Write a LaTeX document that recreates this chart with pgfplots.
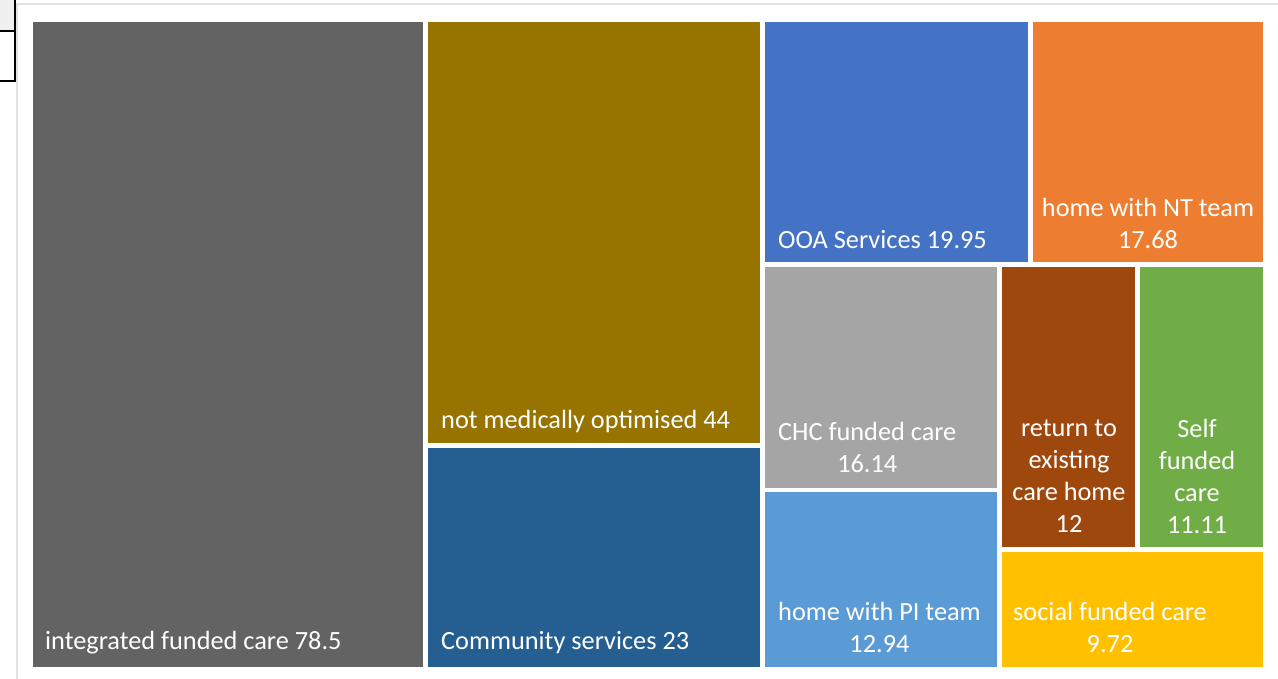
\documentclass[border=0pt]{standalone}
\usepackage{pgfplots}
\pgfplotsset{compat=1.18}
\usepackage{fontspec}
\setmainfont{Carlito}

\definecolor{cInt}{HTML}{636363}
\definecolor{cNmo}{HTML}{977300}
\definecolor{cCom}{HTML}{255E91}
\definecolor{cOoa}{HTML}{4472C4}
\definecolor{cNt}{HTML}{ED7D31}
\definecolor{cChc}{HTML}{A5A5A5}
\definecolor{cPi}{HTML}{5B9BD5}
\definecolor{cRet}{HTML}{9E480E}
\definecolor{cSelf}{HTML}{70AD47}
\definecolor{cSoc}{HTML}{FFC000}

% one tile: x0 y0 x1 y1 (pixel units, y down)
\newcommand{\tile}[5]{%
  \addplot [draw=none, fill=#1] coordinates {(#2,#3) (#4,#3) (#4,#5) (#2,#5)} --cycle;
}

\tikzset{lbl/.style={font=\fontsize{26.3}{32}\selectfont, text=white, inner sep=0pt, align=center}}

\begin{document}
\begin{tikzpicture}
\begin{axis}[
    width=1278pt, height=679pt,
    scale only axis,
    xmin=0, xmax=1278, ymin=0, ymax=679,
    y dir=reverse,
    hide axis,
]
% page background and frame
\addplot [draw=none, fill=white] coordinates {(0,0) (1278,0) (1278,679) (0,679)} --cycle;
\addplot [draw={rgb,255:red,225;green,225;blue,225}, line width=2pt] coordinates {(16.5,679) (16.5,4.5) (1278,4.5)};
% cell fragments top left
\addplot [draw=none, fill={rgb,255:red,240;green,240;blue,240}] coordinates {(0,0) (14,0) (14,31) (0,31)} --cycle;
\addplot [draw=black, line width=2pt] coordinates {(14.5,0) (14.5,82)};
\addplot [draw=black, line width=2pt] coordinates {(0,31) (14.5,31)};
\addplot [draw=black, line width=2pt] coordinates {(0,81) (14.5,81)};

% tiles
\tile{cInt}{33}{22}{423}{667}
\tile{cNmo}{428}{22}{760}{443}
\tile{cCom}{428}{448}{760}{667}
\tile{cOoa}{765}{22}{1028}{262}
\tile{cNt}{1033}{22}{1263}{262}
\tile{cChc}{765}{267}{997}{488}
\tile{cPi}{765}{492}{997}{667}
\tile{cRet}{1002}{267}{1135}{547}
\tile{cSelf}{1140}{267}{1263}{547}
\tile{cSoc}{1002}{552}{1263}{667}

% labels
\node[lbl, anchor=west] at (axis cs:45,643) {integrated funded care 78.5};
\node[lbl, anchor=west] at (axis cs:441,421) {not medically optimised 44};
\node[lbl, anchor=west] at (axis cs:441,643) {Community services 23};
\node[lbl, anchor=west] at (axis cs:778,240) {OOA Services 19.95};
\node[lbl] at (axis cs:1148,223) {home with NT team\\17.68};
\node[lbl, anchor=west] at (axis cs:778,447) {CHC funded care\\16.14};
\node[lbl, anchor=west] at (axis cs:778,627) {home with PI team\\12.94};
\node[lbl] at (axis cs:1069,476) {return to\\existing\\care home\\12};
\node[lbl] at (axis cs:1197,476) {Self\\funded\\care\\11.11};
\node[lbl, anchor=west] at (axis cs:1013,627) {social funded care\\9.72};
\end{axis}
\end{tikzpicture}
\end{document}
